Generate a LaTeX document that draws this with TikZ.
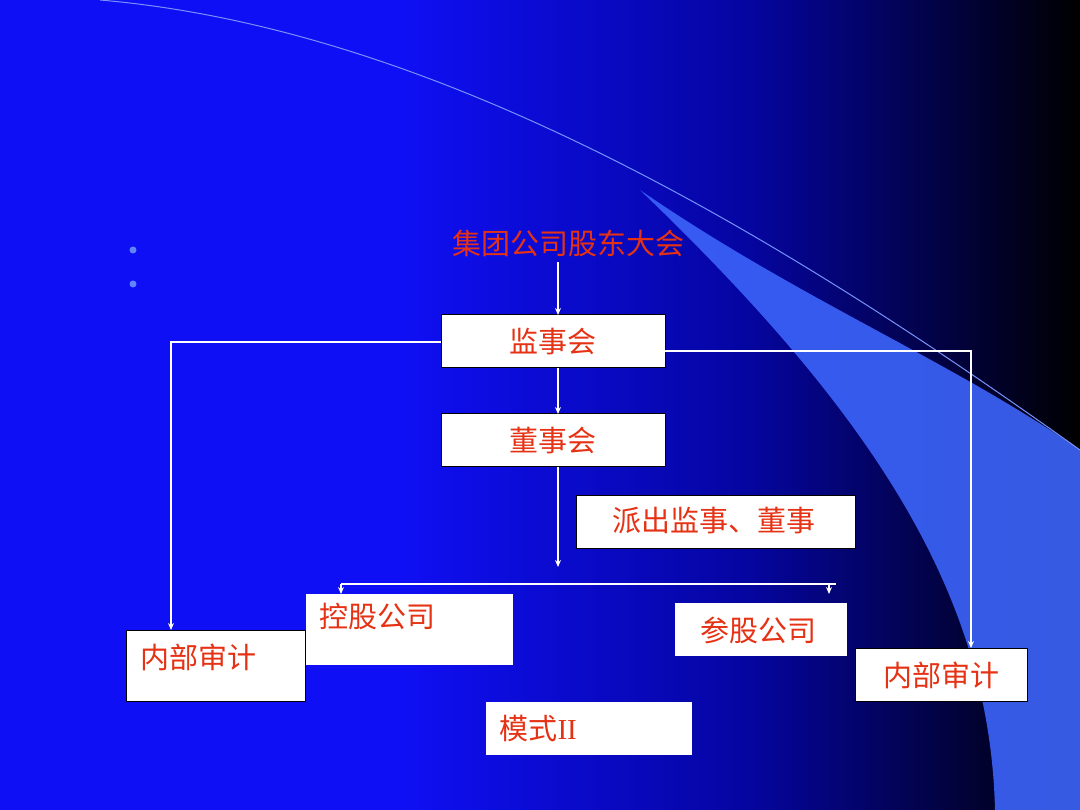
\documentclass[tikz,border=0pt]{standalone}
\usepackage{fontspec}
\usetikzlibrary{arrows.meta}
\newfontfamily\cjk{Noto Sans CJK SC}
\definecolor{txt}{RGB}{230,50,20}
\definecolor{bg1}{RGB}{15,15,245}
\definecolor{bgm}{RGB}{5,5,160}
\definecolor{sw}{RGB}{60,100,250}
\begin{document}
\begin{tikzpicture}[x=1pt,y=-1pt,
  box/.style={draw=black,line width=1pt,fill=white,inner sep=0pt},
  lab/.style={text=txt,font=\cjk\fontsize{29}{29}\selectfont},
  ln/.style={draw=white,line width=1.3pt},
  arr/.style={ln,-{Stealth[length=7pt,width=6pt]}}]
\useasboundingbox (0,0) rectangle (1080,810);
\fill[bg1] (0,0) rectangle (400,810);
\shade[left color=bg1, right color=bgm] (400,0) rectangle (750,810);
\shade[left color=bgm, right color=black] (750,0) rectangle (1080,810);
% swoosh
\fill[sw,opacity=0.9] (640,190) .. controls (800,300) and (950,360) .. (1080,450) -- (1080,810) -- (995,810) .. controls (990,600) and (880,420) .. cycle;
\draw[sw!70!white,line width=1pt] (100,0) .. controls (450,30) and (800,250) .. (1080,450);
% bullets
\fill[sw!80!white] (133,250) circle (3.5);
\fill[sw!80!white] (133,284) circle (3.5);
% nodes
\node[lab] (top) at (568,243) {集团公司股东大会};
\path[box] (441,315) rectangle (665,368); \node[lab] (js) at (553,342) {监事会};
\path[box] (441,414) rectangle (665,467); \node[lab] (ds) at (553,441) {董事会};
\path[box] (576,495) rectangle (855,548); \node[lab] (pc) at (714,521) {派出监事、董事};
\path[box,draw=none] (306,594) rectangle (513,665); \node[lab,anchor=north west] (kg) at (316,600) {控股公司};
\path[box,draw=none] (675,603) rectangle (847,656); \node[lab] (cg) at (758,630) {参股公司};
\path[box] (126,630) rectangle (305,701); \node[lab,anchor=north west] (nb1) at (137,640) {内部审计};
\path[box] (855,648) rectangle (1027,701); \node[lab] (nb2) at (941,675) {内部审计};
\path[box,draw=none] (486,702) rectangle (692,755); \node[lab,anchor=west] (ms) at (496,729) {模式{\fontspec{Liberation Serif}II}};
% connectors
\coordinate (a1) at (558,262); \coordinate (a2) at (558,315);
\draw[arr] (a1) -- (a2);
\coordinate (b1) at (558,368); \coordinate (b2) at (558,414);
\draw[arr] (b1) -- (b2);
\coordinate (c1) at (441,342); \coordinate (c2) at (171,630);
\draw[arr] (c1) -| (c2);
\coordinate (d1) at (665,351); \coordinate (d2) at (971,648);
\draw[arr] (d1) -| (d2);
\coordinate (e1) at (558,467); \coordinate (e2) at (558,567);
\draw[arr] (e1) -- (e2);
\coordinate (h1) at (341,584); \coordinate (h2) at (836,584);
\draw[ln] (h1) -- (h2);
\coordinate (k1) at (341,584); \coordinate (k2) at (341,594);
\coordinate (m1) at (829,584); \coordinate (m2) at (829,594);
\draw[arr] (k1) -- (k2);
\draw[arr] (m1) -- (m2);
\end{tikzpicture}
\end{document}
